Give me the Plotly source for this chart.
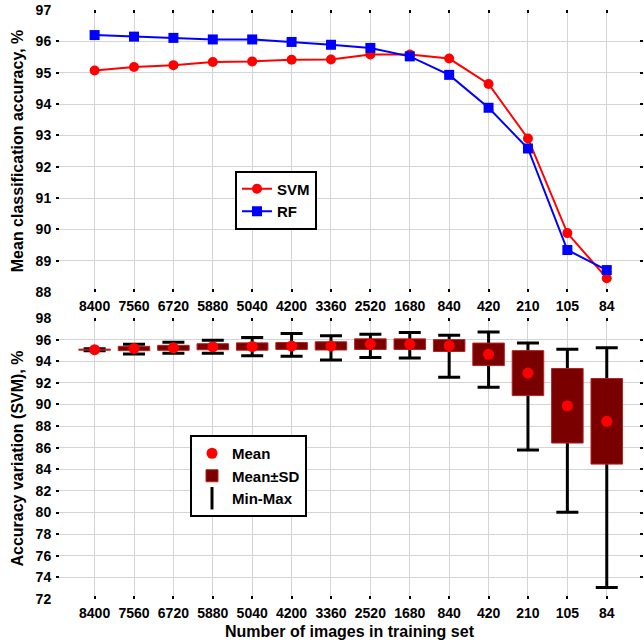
import plotly.graph_objects as go

categories = ["8400", "7560", "6720", "5880", "5040", "4200", "3360",
              "2520", "1680", "840", "420", "210", "105", "84"]

svm_mean = [95.07, 95.18, 95.24, 95.34, 95.36, 95.41, 95.42,
            95.58, 95.58, 95.45, 94.64, 92.90, 89.88, 88.44]
rf_mean = [96.20, 96.15, 96.11, 96.06, 96.06, 95.98, 95.89,
           95.79, 95.52, 94.93, 93.88, 92.58, 89.34, 88.70]

svm_sd = [0.05, 0.20, 0.23, 0.28, 0.34, 0.32, 0.38,
          0.49, 0.49, 0.55, 1.04, 2.08, 3.45, 3.96]
svm_min = [94.98, 94.66, 94.75, 94.75, 94.50, 94.45, 94.11,
           94.35, 94.30, 92.52, 91.60, 85.78, 80.02, 73.07]
svm_max = [95.16, 95.58, 95.76, 95.95, 96.19, 96.56, 96.35,
           96.50, 96.65, 96.41, 96.71, 95.68, 95.12, 95.24]

top_yticks = list(range(88, 98))
bot_yticks = list(range(72, 99, 2))

FONT = "Liberation Sans, Arial, sans-serif"

sd_base = [m - s for m, s in zip(svm_mean, svm_sd)]
sd_height = [2 * s for s in svm_sd]
err_plus = [mx - m for mx, m in zip(svm_max, svm_mean)]
err_minus = [m - mn for m, mn in zip(svm_mean, svm_min)]

fig = go.Figure()

# Top panel
fig.add_trace(go.Scatter(
    x=categories, y=svm_mean, name="SVM", mode="lines+markers",
    line=dict(color="#ff0000", width=2),
    marker=dict(symbol="circle", size=10, color="#ff0000"),
    xaxis="x", yaxis="y", legend="legend"))
fig.add_trace(go.Scatter(
    x=categories, y=rf_mean, name="RF", mode="lines+markers",
    line=dict(color="#0000ff", width=2),
    marker=dict(symbol="square", size=10, color="#0000ff"),
    xaxis="x", yaxis="y", legend="legend"))

# Bottom panel
fig.add_trace(go.Scatter(
    x=categories, y=svm_mean, name="Mean", mode="markers",
    marker=dict(symbol="circle", size=11, color="#ff0000"),
    xaxis="x2", yaxis="y2", legend="legend2", zorder=3))
fig.add_trace(go.Bar(
    x=categories, y=sd_height, base=sd_base, name="Mean±SD",
    width=0.8, marker=dict(color="#7a0000", line=dict(color="#b22222", width=1)),
    xaxis="x2", yaxis="y2", legend="legend2", zorder=2))
fig.add_trace(go.Scatter(
    x=categories, y=svm_mean, mode="markers", showlegend=False,
    marker=dict(size=1, color="rgba(0,0,0,0)"),
    error_y=dict(type="data", symmetric=False, array=err_plus,
                 arrayminus=err_minus, color="black", thickness=3, width=11),
    xaxis="x2", yaxis="y2", zorder=1))
fig.add_trace(go.Scatter(
    x=[None], y=[None], name="Min-Max", mode="markers",
    marker=dict(symbol="line-ns", size=16, color="black",
                line=dict(color="black", width=3)),
    xaxis="x2", yaxis="y2", legend="legend2"))

axis_common = dict(
    showline=True, linecolor="black", linewidth=2, mirror="ticks",
    showgrid=True, gridcolor="#d4d4d4", gridwidth=1.2,
    ticks="inside", ticklen=3, tickwidth=2, tickcolor="black",
    tickfont=dict(family=FONT, size=14, color="black", weight="bold"),
    zeroline=False, automargin=False,
)

xr = [-0.98, 13.92]
fig.update_layout(
    width=644, height=642,
    margin=dict(l=0, r=0, t=0, b=0, pad=0, autoexpand=False),
    paper_bgcolor="white", plot_bgcolor="white",
    showlegend=True,
    font=dict(family=FONT, color="black"),
    xaxis=dict(axis_common, type="category", range=xr,
               domain=[56 / 644, 643 / 644], anchor="y"),
    yaxis=dict(axis_common, range=[88, 97], tickvals=top_yticks,
               domain=[1 - 292 / 642, 1 - 10 / 642], anchor="x",
               title=dict(text="Mean classification accuracy, %",
                          font=dict(family=FONT, size=16, weight="bold"),
                          standoff=8)),
    xaxis2=dict(axis_common, type="category", range=xr,
                domain=[56 / 644, 643 / 644], anchor="y2",
                title=dict(text="Number of images in training set",
                           font=dict(family=FONT, size=16, weight="bold"),
                           standoff=6)),
    yaxis2=dict(axis_common, range=[72, 98], tickvals=bot_yticks,
                domain=[1 - 599 / 642, 1 - 318 / 642], anchor="x2",
                title=dict(text="Accuracy variation (SVM), %",
                           font=dict(family=FONT, size=16, weight="bold"),
                           standoff=8)),
    legend=dict(x=235 / 644, y=1 - 200 / 642, xanchor="left", yanchor="middle",
                bgcolor="white", bordercolor="black", borderwidth=2,
                font=dict(family=FONT, size=15, color="black", weight="bold"),
                itemwidth=30, tracegroupgap=0),
    legend2=dict(x=190 / 644, y=1 - 476 / 642, xanchor="left", yanchor="middle",
                 bgcolor="white", bordercolor="black", borderwidth=2,
                 font=dict(family=FONT, size=15, color="black", weight="bold"),
                 itemwidth=30, tracegroupgap=0),
)

fig.write_html("out.html", config={"displayModeBar": False},
               post_script="document.body.style.margin='0px';")
